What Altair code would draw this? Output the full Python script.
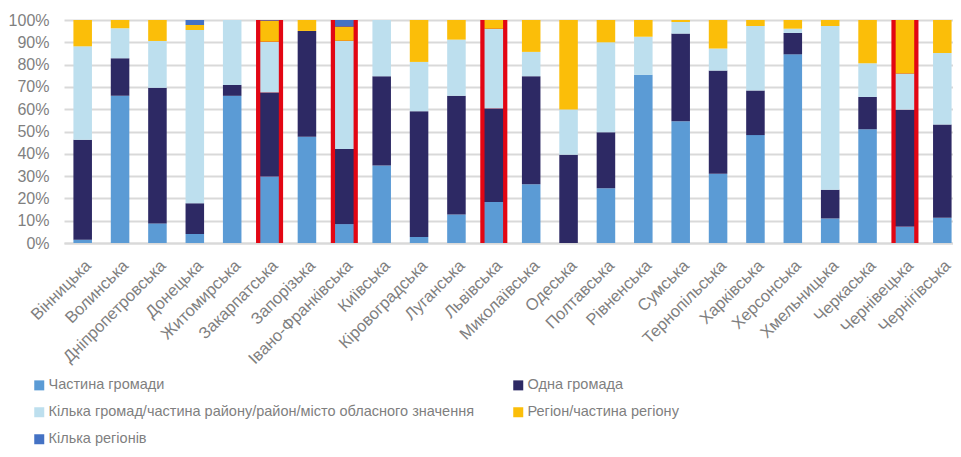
import altair as alt
import pandas as pd

regions = ["Вінницька", "Волинська", "Дніпропетровська", "Донецька", "Житомирська",
           "Закарпатська", "Запорізька", "Івано-Франківська", "Київська", "Кіровоградська",
           "Луганська", "Львівська", "Миколаївська", "Одеська", "Полтавська", "Рівненська",
           "Сумська", "Тернопільська", "Харківська", "Херсонська", "Хмельницька",
           "Черкаська", "Чернівецька", "Чернігівська"]

categories = ["Частина громади", "Одна громада",
              "Кілька громад/частина району/район/місто обласного значення",
              "Регіон/частина регіону", "Кілька регіонів"]
colors = ["#5B9BD5", "#2D2964", "#BDDFEE", "#FBBE09", "#4472C4"]

chastyna_hromady = [1.5, 66, 8.8, 4, 66, 29.9, 47.6, 8.5, 34.8, 2.7, 12.8, 18.4,
                    26.4, 0, 24.5, 75.4, 54.6, 31, 48.4, 84.6, 11, 51, 7.5, 11.3]
odna_hromada = [44.8, 16.8, 60.8, 13.8, 4.9, 37.6, 47.5, 33.6, 40, 56.4, 53.2, 41.9,
                48.4, 39.6, 25.2, 0, 39.3, 46.3, 20, 9.6, 12.9, 14.5, 52.2, 41.8]
kilka_hromad = [41.9, 13.5, 21, 77.7, 29.1, 22.8, 0, 48.6, 25.2, 22.1, 25.2, 35.8,
                10.9, 20.3, 40.3, 17.1, 5.2, 9.9, 28.9, 1.9, 73.4, 15.1, 16.3, 32.1]
region_chastyna = [11.8, 3.7, 9.4, 2.3, 0, 9.4, 4.9, 6.3, 0, 18.8, 8.8, 3.9,
                   14.3, 40.1, 10, 7.5, 0.9, 12.8, 2.7, 3.9, 2.7, 19.4, 24, 14.8]
kilka_regioniv = [0, 0, 0, 2.2, 0, 0.3, 0, 3.0, 0, 0, 0, 0,
                  0, 0, 0, 0, 0, 0, 0, 0, 0, 0, 0, 0]

highlighted = ["Закарпатська", "Івано-Франківська", "Львівська", "Чернівецька"]

series = [chastyna_hromady, odna_hromada, kilka_hromad, region_chastyna, kilka_regioniv]
rows = []
for ci, (cat, vals) in enumerate(zip(categories, series)):
    for r, v in zip(regions, vals):
        rows.append({"region": r, "category": cat, "value": v, "ord": ci})
df = pd.DataFrame(rows)
hl = pd.DataFrame({"region": highlighted, "lo": [0.0] * 4, "hi": [1.0] * 4})

FONT = "Liberation Sans"
GRAY = "#7F7F7F"

xscale = alt.Scale(domain=regions, range=[0, 897], paddingInner=0, paddingOuter=0)
yscale = alt.Scale(domain=[0, 1])

xaxis = alt.Axis(labelAngle=-45, labelFontSize=16.5, labelColor=GRAY, labelFont=FONT,
                 ticks=False, domain=True, domainColor="#D9D9D9", domainWidth=2,
                 labelPadding=14, labelLimit=300, labelOverlap=False)
yaxis = alt.Axis(format=".0%", values=[0, 0.1, 0.2, 0.3, 0.4, 0.5, 0.6, 0.7, 0.8, 0.9, 1.0],
                 tickCount=11, labelFontSize=16, labelColor=GRAY, labelFont=FONT,
                 ticks=False, domain=False, labelPadding=15, labelOverlap=False,
                 gridColor="#D9D9D9", gridWidth=1.8)

red = alt.Chart(hl).mark_bar(color="#E20613", width=alt.RelativeBandSize(0.724)).encode(
    x=alt.X("region:N", sort=regions, scale=xscale, title=None, axis=xaxis),
    y=alt.Y("lo:Q", title=None, scale=yscale, axis=yaxis),
    y2="hi:Q",
)

bars = alt.Chart(df).mark_bar(width=alt.RelativeBandSize(0.496)).encode(
    x=alt.X("region:N", sort=regions, scale=xscale, title=None, axis=xaxis),
    y=alt.Y("value:Q", stack="normalize", title=None, scale=yscale, axis=yaxis),
    color=alt.Color("category:N", scale=alt.Scale(domain=categories, range=colors),
                    legend=alt.Legend(orient="none", legendX=-32, legendY=358, columns=2,
                                      direction="horizontal",
                                      columnPadding=36, rowPadding=12, symbolType="square",
                                      symbolSize=100, symbolStrokeWidth=0, labelFontSize=14.5,
                                      labelColor=GRAY, labelFont=FONT, labelLimit=600,
                                      title=None, labelOffset=2)),
    order=alt.Order("ord:Q", sort="ascending"),
)

chart = alt.layer(red, bars).properties(
    width=889, height=223,
    autosize=alt.AutoSizeParams(type="none"),
    padding={"left": 56, "top": 12, "right": 0, "bottom": 206},
).configure_view(stroke=None)

chart.save("out.html", embed_options={"renderer": "svg", "actions": False})
